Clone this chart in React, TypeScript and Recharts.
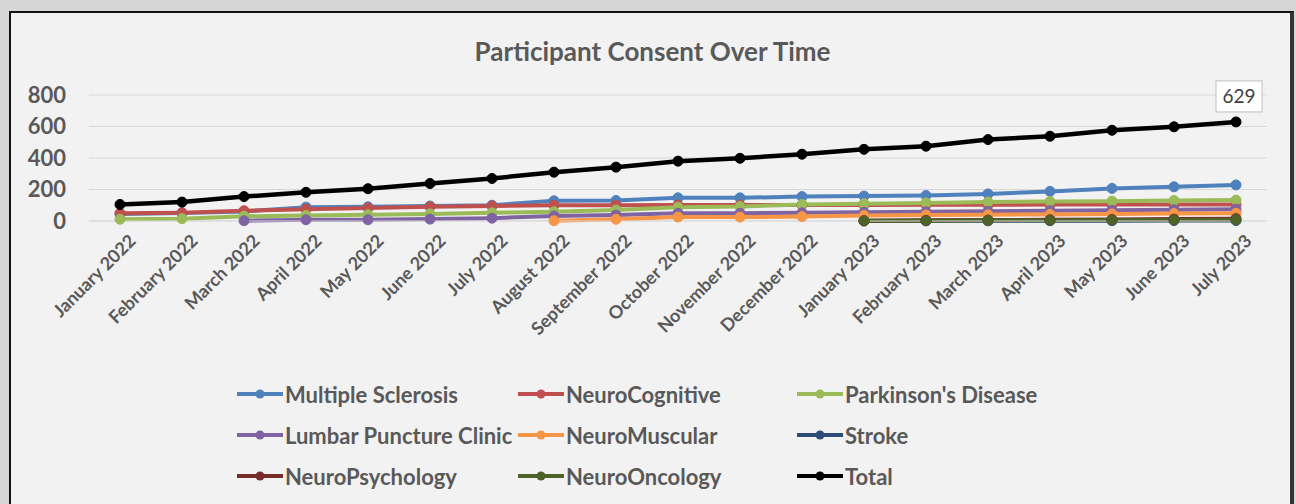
import { LineChart, Line, XAxis, YAxis, CartesianGrid, Legend, LabelList } from 'recharts'

const months = [
  'January 2022', 'February 2022', 'March 2022', 'April 2022', 'May 2022', 'June 2022',
  'July 2022', 'August 2022', 'September 2022', 'October 2022', 'November 2022', 'December 2022',
  'January 2023', 'February 2023', 'March 2023', 'April 2023', 'May 2023', 'June 2023', 'July 2023',
]

const multipleSclerosis = [45, 50, 60, 88, 90, 95, 100, 128, 130, 147, 147, 155, 158, 162, 172, 188, 207, 217, 229]
const neuroCognitive = [49, 53, 65, 75, 82, 90, 95, 100, 100, 101, 101, 102, 102, 103, 103, 104, 104, 104, 104]
const parkinsons = [11, 15, 30, 35, 40, 45, 52, 59, 70, 88, 92, 105, 110, 115, 120, 124, 126, 130, 133]
const lumbarPuncture = [null, null, 2, 8, 8, 12, 18, 32, 38, 49, 49, 52, 55, 58, 62, 65, 68, 72, 75]
const neuroMuscular = [null, null, null, null, null, null, null, 2, 11, 25, 25, 28, 35, 38, 40, 42, 45, 47, 49]
const stroke = [null, null, null, null, null, null, null, null, null, null, null, null, 0, 1, 1, 2, 2, 3, 3]
const neuroPsychology = [null, null, null, null, null, null, null, null, null, null, null, null, 2, 4, 6, 8, 10, 12, 15]
const neuroOncology = [null, null, null, null, null, null, null, null, null, null, null, null, 1, 2, 4, 5, 6, 7, 8]
const total = [105, 120, 155, 182, 205, 238, 270, 310, 342, 380, 398, 424, 455, 475, 517, 538, 576, 598, 629]

const yTicks = [0, 200, 400, 600, 800]

const series = [
  { key: 'ms', name: 'Multiple Sclerosis', color: '#4F81BD', values: multipleSclerosis },
  { key: 'cog', name: 'NeuroCognitive', color: '#C0504D', values: neuroCognitive },
  { key: 'pd', name: "Parkinson's Disease", color: '#9BBB59', values: parkinsons },
  { key: 'lp', name: 'Lumbar Puncture Clinic', color: '#8064A2', values: lumbarPuncture },
  { key: 'mus', name: 'NeuroMuscular', color: '#F79646', values: neuroMuscular },
  { key: 'stroke', name: 'Stroke', color: '#2C4D75', values: stroke },
  { key: 'psy', name: 'NeuroPsychology', color: '#772C2A', values: neuroPsychology },
  { key: 'onc', name: 'NeuroOncology', color: '#4F6228', values: neuroOncology },
  { key: 'total', name: 'Total', color: '#000000', values: total },
]

const data = months.map((m, i) => {
  const row: Record<string, string | number | null> = { month: m }
  series.forEach((s) => (row[s.key] = s.values[i]))
  return row
})

const FONT = 'Lato, "Open Sans", sans-serif'
const TEXT = '#595959'

function MonthTick({ x, y, payload }: any) {
  const ax = x + 17
  const ay = y + 13
  return (
    <text
      x={ax}
      y={ay}
      transform={`rotate(-45, ${ax}, ${ay})`}
      textAnchor="end"
      fontFamily={FONT}
      fontWeight={700}
      fontSize={18}
      fill={TEXT}
    >
      {payload.value}
    </text>
  )
}

function LastLabel(props: any) {
  const { x, y, index, value } = props
  if (index !== months.length - 1) return null
  const w = 46
  const h = 31
  return (
    <g>
      <rect x={x - w / 2 + 3} y={y - 41} width={w} height={h} fill="#ffffff" stroke="#bfbfbf" />
      <text x={x + 3} y={y - 19} textAnchor="middle" fontFamily={FONT} fontSize={19} fill="#404040">
        {value}
      </text>
    </g>
  )
}

function LegendGrid() {
  const cols = [237, 518, 797]
  return (
    <div style={{ position: 'relative', width: 1000, height: 110 }}>
      {series.map((s, i) => {
        const col = i % 3
        const row = Math.floor(i / 3)
        return (
          <div
            key={s.key}
            style={{
              position: 'absolute',
              left: cols[col] - 230,
              top: row * 41,
              display: 'flex',
              alignItems: 'center',
              height: 30,
              fontFamily: FONT,
              fontWeight: 700,
              fontSize: 22,
              color: TEXT,
              whiteSpace: 'nowrap',
            }}
          >
            <svg width={48} height={12}>
              <line x1={0} y1={6} x2={46} y2={6} stroke={s.color} strokeWidth={4} />
              <circle cx={23} cy={6} r={4.5} fill={s.color} />
            </svg>
            <span>{s.name}</span>
          </div>
        )
      })}
    </div>
  )
}

export default function App() {
  return (
    <div style={{ position: 'absolute', left: 0, top: 0, width: 1296, height: 504, background: '#d6d6d6', overflow: 'hidden' }}>
      <div
        style={{
          position: 'absolute',
          left: 9,
          top: 11,
          width: 1279,
          height: 510,
          background: '#f2f2f2',
          border: '2px solid #111',
          borderRight: '4px solid #333',
        }}
      />
      <div
        style={{
          position: 'absolute',
          left: 9,
          width: 1287,
          top: 35,
          textAlign: 'center',
          fontFamily: FONT,
          fontWeight: 700,
          fontSize: 26,
          color: TEXT,
        }}
      >
        Participant Consent Over Time
      </div>
      <div style={{ position: 'absolute', left: 0, top: 0 }}>
        <LineChart width={1296} height={504} data={data} margin={{ top: 95, right: 29, bottom: 163, left: 0 }}>
          <CartesianGrid vertical={false} stroke="#d9d9d9" />
          <XAxis
            dataKey="month"
            interval={0}
            height={120}
            padding={{ left: 31, right: 31 }}
            tickLine={false}
            axisLine={{ stroke: '#d9d9d9' }}
            tick={<MonthTick />}
          />
          <YAxis
            width={89}
            domain={[0, 800]}
            ticks={yTicks}
            axisLine={false}
            tickLine={false}
            tickMargin={17}
            tick={{ fontFamily: FONT, fontWeight: 700, fontSize: 22, fill: TEXT }}
          />
          <Legend
            layout="horizontal"
            verticalAlign="middle"
            wrapperStyle={{ top: 379, left: 230, width: 1000 }}
            content={() => <LegendGrid />}
          />
          {series.map((s) => (
            <Line
              key={s.key}
              dataKey={s.key}
              name={s.name}
              stroke={s.color}
              strokeWidth={s.key === 'total' ? 4.5 : 4}
              dot={{ r: 5, fill: s.color, stroke: s.color, strokeWidth: 1 }}
              activeDot={false}
              isAnimationActive={false}
            >
              {s.key === 'total' && <LabelList dataKey="total" content={<LastLabel />} />}
            </Line>
          ))}
        </LineChart>
      </div>
    </div>
  )
}
